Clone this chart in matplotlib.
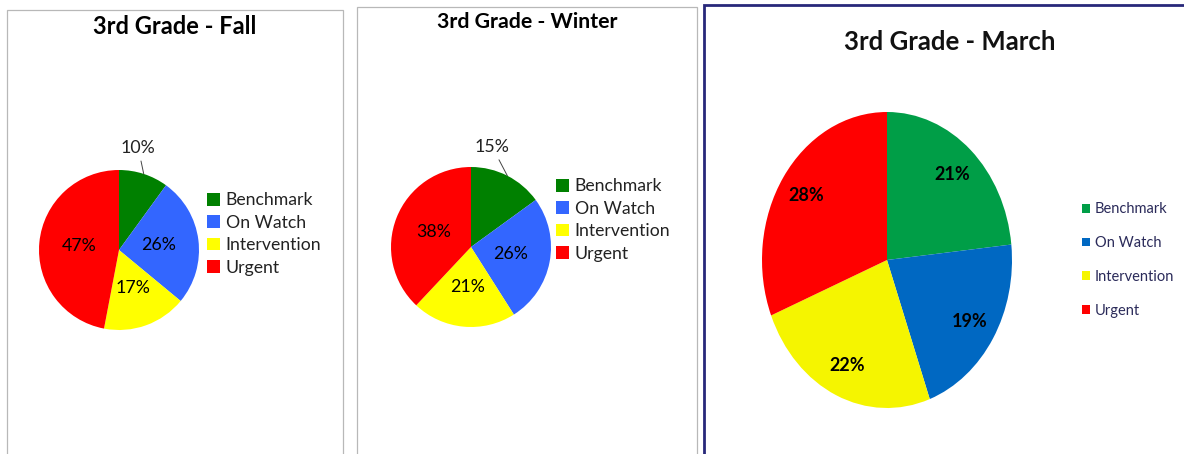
import matplotlib
matplotlib.use("Agg")
import matplotlib.pyplot as plt
from matplotlib.patches import Rectangle
import numpy as np

plt.rcParams['font.family'] = ['Lato', 'DejaVu Sans']

W, H = 1184, 454

categories = ["Benchmark", "On Watch", "Intervention", "Urgent"]
fall = [10, 26, 17, 47]
winter = [15, 26, 21, 38]
march = [21, 19, 22, 28]

colors_a = ["#008000", "#3366ff", "#ffff00", "#ff0000"]
colors_b = ["#009e47", "#0068c2", "#f5f500", "#ff0000"]


def px_box(x0, y0, w, h):
    # pixel box (top-left origin) -> figure fraction
    return [x0 / W, 1 - (y0 + h) / H, w / W, h / H]


def border(fig, x0, y0, x1, y1, color, lw):
    fig.add_artist(Rectangle((x0 / W, 1 - y1 / H), (x1 - x0) / W, (y1 - y0) / H,
                             transform=fig.transFigure, fill=False,
                             edgecolor=color, linewidth=lw))


def pie_panel(fig, values, colors, cx, cy, rx, ry, pctdist, fs, bold, outside=None):
    ax = fig.add_axes(px_box(cx - rx, cy - ry, 2 * rx, 2 * ry))
    wedges, texts, autotexts = ax.pie(values, colors=colors, startangle=90,
                                      counterclock=False, autopct='%d%%',
                                      pctdistance=pctdist,
                                      wedgeprops=dict(linewidth=0))
    ax.set_aspect('auto')
    ax.set_xlim(-1, 1)
    ax.set_ylim(-1, 1)
    for t, v in zip(autotexts, values):
        t.set_text(f"{v}%")
        t.set_fontsize(fs)
        t.set_fontweight('bold' if bold else 'normal')
        t.set_color('black')
    if outside is not None:
        # small slice label sits outside with a leader line
        i, dx, dy = outside
        autotexts[i].set_visible(False)
        w = wedges[i]
        mid = np.deg2rad((w.theta1 + w.theta2) / 2)
        ax.annotate(f"{values[i]}%", xy=(np.cos(mid), np.sin(mid)),
                    xytext=(dx, dy), textcoords='offset points',
                    ha='center', va='center', fontsize=fs, color='#222222',
                    arrowprops=dict(arrowstyle='-', color='#444444', lw=0.7,
                                    shrinkA=2, shrinkB=0),
                    annotation_clip=False)
    return ax, wedges


fig = plt.figure(figsize=(W / 100, H / 100), dpi=100)
fig.patch.set_facecolor('white')

border(fig, 7, 10, 343, 470, '#b8b8b8', 0.9)
border(fig, 357, 7, 697, 470, '#b8b8b8', 0.9)
border(fig, 704, 5, 1220, 470, '#28287a', 2.0)

# Fall
ax1, w1 = pie_panel(fig, fall, colors_a, 119, 250, 80, 80, 0.5, 12.8, False,
                    outside=(0, -4, 19))
fig.text(175 / W, 1 - 27 / H, "3rd Grade - Fall", ha='center', va='center',
         fontsize=17, fontweight='bold')
fig.legend(w1, categories, loc='center left', bbox_to_anchor=(207 / W, 1 - 234 / H),
           frameon=False, fontsize=12.7, handlelength=0.75, handleheight=0.75,
           handletextpad=0.3, labelspacing=0.36, borderpad=0, borderaxespad=0,
           labelcolor='#222222')

# Winter
ax2, w2 = pie_panel(fig, winter, colors_a, 471, 247, 80, 80, 0.5, 12.8, False,
                    outside=(0, -11, 21))
fig.text(527 / W, 1 - 22 / H, "3rd Grade - Winter", ha='center', va='center',
         fontsize=15.3, fontweight='bold')
fig.legend(w2, categories, loc='center left', bbox_to_anchor=(556 / W, 1 - 220 / H),
           frameon=False, fontsize=12.7, handlelength=0.75, handleheight=0.75,
           handletextpad=0.3, labelspacing=0.36, borderpad=0, borderaxespad=0,
           labelcolor='#222222')

# March
ax3, w3 = pie_panel(fig, march, colors_b, 887, 260, 125, 148, 0.78, 13, True)
fig.text(950 / W, 1 - 42 / H, "3rd Grade - March", ha='center', va='center',
         fontsize=18.5, fontweight='bold', color='#111111')
fig.legend(w3, categories, loc='center left', bbox_to_anchor=(1082 / W, 1 - 260 / H),
           frameon=False, fontsize=10.5, handlelength=0.55, handleheight=0.55,
           handletextpad=0.35, labelspacing=1.35, borderpad=0, borderaxespad=0,
           labelcolor='#2b2b5a')

fig.savefig("out.png", dpi=100)
